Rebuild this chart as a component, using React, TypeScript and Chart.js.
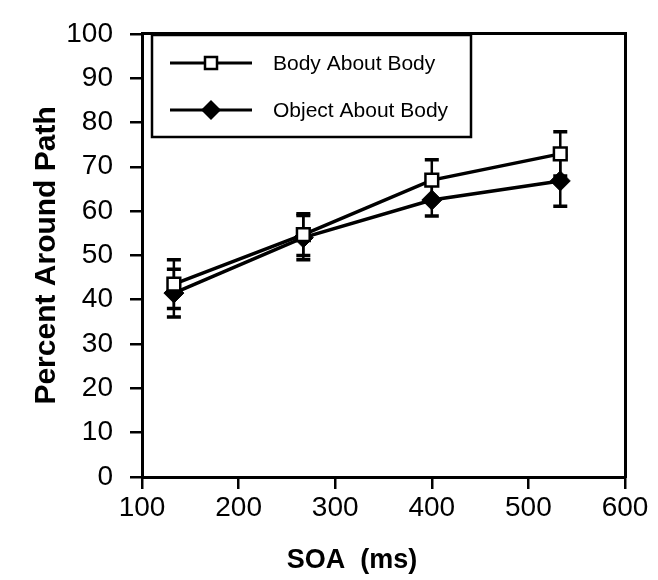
import React, { useEffect, useRef } from 'react';
import { Chart, registerables } from 'chart.js';

Chart.register(...registerables);

// ---- data ----
const soaMs = [133, 267, 400, 533];
const bodyAboutBody = [43.5, 54.7, 67.0, 72.9];
const bodyAboutBodyErr = [5.5, 4.7, 4.6, 5.0];
const objectAboutBody = [41.5, 54.0, 62.5, 66.8];
const objectAboutBodyErr = [5.4, 5.0, 3.6, 5.7];
const seriesLabels = ['Body About Body', 'Object About Body'];
const xTitle = 'SOA  (ms)';
const yTitle = 'Percent Around Path';
const xMin = 100, xMax = 600, xStep = 100;
const yMin = 0, yMax = 100, yStep = 10;

const FONT = "'Liberation Sans', Arial, Helvetica, sans-serif";

const errorBarPlugin = {
  id: 'errorBars',
  beforeDatasetsDraw(chart: any) {
    const ctx = chart.ctx;
    const yScale = chart.scales.y;
    ctx.save();
    ctx.strokeStyle = '#000';
    chart.data.datasets.forEach((ds: any, i: number) => {
      const meta = chart.getDatasetMeta(i);
      meta.data.forEach((pt: any, j: number) => {
        const v = ds.data[j].y;
        const e = ds.errors[j];
        const yt = yScale.getPixelForValue(v + e);
        const yb = yScale.getPixelForValue(v - e);
        const x = pt.x;
        ctx.lineWidth = 2.5;
        ctx.beginPath();
        ctx.moveTo(x, yt);
        ctx.lineTo(x, yb);
        ctx.stroke();
        ctx.lineWidth = 3.5;
        ctx.beginPath();
        ctx.moveTo(x - 7, yt);
        ctx.lineTo(x + 7, yt);
        ctx.moveTo(x - 7, yb);
        ctx.lineTo(x + 7, yb);
        ctx.stroke();
      });
    });
    ctx.restore();
  },
};

const boxLegendPlugin = {
  id: 'boxLegend',
  afterDraw(chart: any) {
    const ctx = chart.ctx;
    ctx.save();
    ctx.strokeStyle = '#000';
    ctx.lineWidth = 2.5;
    ctx.strokeRect(152, 35, 319, 102);
    chart.data.datasets.forEach((ds: any, i: number) => {
      const y = 63 + i * 47;
      ctx.lineWidth = 3;
      ctx.beginPath();
      ctx.moveTo(170, y);
      ctx.lineTo(252, y);
      ctx.stroke();
      const cx = 211;
      if (ds.pointStyle === 'rect') {
        ctx.fillStyle = '#fff';
        ctx.lineWidth = 2.5;
        ctx.fillRect(cx - 6, y - 6, 12, 12);
        ctx.strokeRect(cx - 6, y - 6, 12, 12);
      } else {
        ctx.fillStyle = '#000';
        ctx.beginPath();
        ctx.moveTo(cx, y - 10);
        ctx.lineTo(cx + 10, y);
        ctx.lineTo(cx, y + 10);
        ctx.lineTo(cx - 10, y);
        ctx.closePath();
        ctx.fill();
      }
      ctx.fillStyle = '#000';
      ctx.font = `21px ${FONT}`;
      ctx.textAlign = 'left';
      ctx.textBaseline = 'middle';
      ctx.fillText(ds.label, 273, y + 1);
    });
    ctx.restore();
  },
};

export default function App() {
  const ref = useRef<HTMLCanvasElement | null>(null);

  useEffect(() => {
    if (!ref.current) return;
    const toPts = (ys: number[]) => ys.map((y, i) => ({ x: soaMs[i], y }));
    const chart = new Chart(ref.current, {
      type: 'line',
      data: {
        datasets: [
          {
            label: seriesLabels[0],
            data: toPts(bodyAboutBody),
            errors: bodyAboutBodyErr,
            borderColor: '#000',
            borderWidth: 3.5,
            pointStyle: 'rect',
            pointRadius: 9,
            pointBackgroundColor: '#fff',
            pointBorderColor: '#000',
            pointBorderWidth: 2.5,
            tension: 0,
          } as any,
          {
            label: seriesLabels[1],
            data: toPts(objectAboutBody),
            errors: objectAboutBodyErr,
            borderColor: '#000',
            borderWidth: 3.5,
            pointStyle: 'rectRot',
            pointRadius: 10,
            pointBackgroundColor: '#000',
            pointBorderColor: '#000',
            pointBorderWidth: 1,
            tension: 0,
          } as any,
        ],
      },
      options: {
        responsive: false,
        animation: false,
        devicePixelRatio: 1,
        layout: { padding: { left: 46, right: 0, top: 0, bottom: 0 } },
        plugins: {
          legend: { display: false },
          tooltip: { enabled: false },
          title: {
            display: true,
            position: 'bottom',
            text: xTitle,
            color: '#000',
            font: { family: FONT, size: 27, weight: 'bold' },
            padding: { top: 0, bottom: 3 },
          },
        },
        scales: {
          x: {
            type: 'linear',
            position: 'bottom',
            min: xMin,
            max: xMax,
            ticks: {
              stepSize: xStep,
              color: '#000',
              font: { family: FONT, size: 28 },
              padding: 2,
              maxRotation: 0,
            },
            grid: { drawOnChartArea: false, drawTicks: true, tickLength: 12, color: '#000', lineWidth: 2.5 },
            border: { display: true, color: '#000', width: 3 },
            afterFit: (s: any) => { s.height = 103 - (27 * 1.2 + 3); },
          },
          x2: {
            type: 'linear',
            axis: 'x',
            position: 'top',
            min: 0,
            max: 1,
            display: true,
            ticks: { display: false },
            grid: { display: false },
            border: { display: true, color: '#000', width: 3 },
            afterFit: (s: any) => { s.height = 24; },
          },
          y: {
            type: 'linear',
            position: 'left',
            min: yMin,
            max: yMax,
            ticks: {
              stepSize: yStep,
              color: '#000',
              font: { family: FONT, size: 28 },
              padding: 17,
            },
            grid: { drawOnChartArea: false, drawTicks: true, tickLength: 12, color: '#000', lineWidth: 2.5 },
            border: { display: true, color: '#000', width: 3 },
            title: {
              display: true,
              text: yTitle,
              color: '#000',
              font: { family: FONT, size: 30, weight: 'bold' },
              padding: { top: -17, bottom: 0 },
            },
            afterFit: (s: any) => { s.width = 142 - 46; },
          },
          y2: {
            type: 'linear',
            axis: 'y',
            position: 'right',
            min: 0,
            max: 1,
            display: true,
            ticks: { display: false },
            grid: { display: false },
            border: { display: true, color: '#000', width: 3 },
            afterFit: (s: any) => { s.width = 33; },
          },
        },
      } as any,
      plugins: [errorBarPlugin, boxLegendPlugin],
    });
    return () => chart.destroy();
  }, []);

  return (
    <div style={{ position: 'absolute', left: 0, top: 0, width: 658, height: 580, background: '#fff' }}>
      <canvas ref={ref} width={658} height={580} />
    </div>
  );
}
